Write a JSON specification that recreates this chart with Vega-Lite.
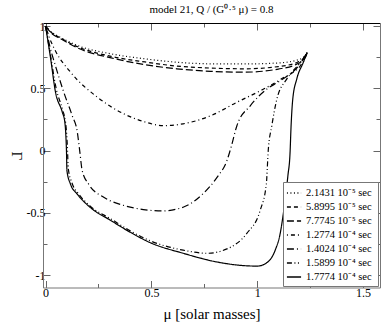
{
  "$schema": "https://vega.github.io/schema/vega-lite/v6.json",
  "autosize": {"type": "none"},
  "padding": {"left": 43, "top": 23, "right": 2, "bottom": 39.5},
  "width": 337,
  "height": 264.5,
  "config": {
    "font": "Liberation Serif",
    "view": {"stroke": null},
    "axis": {"grid": false, "labelFont": "Liberation Serif", "titleFont": "Liberation Serif", "labelColor": "black", "titleColor": "black", "tickColor": "#666", "domainColor": "#777", "titleFontWeight": "normal"}
  },
  "title": {"text": "model 21, Q / (G⁰·⁵ μ) = 0.8", "font": "Liberation Serif", "fontSize": 11, "fontWeight": "normal", "offset": 5, "color": "black"},
  "data": {"values": [
    {"s": "2.1431 10⁻⁵  sec", "i": 0, "x": 0, "y": 1},
    {"s": "2.1431 10⁻⁵  sec", "i": 1, "x": 0.03, "y": 0.95},
    {"s": "2.1431 10⁻⁵  sec", "i": 2, "x": 0.07, "y": 0.91},
    {"s": "2.1431 10⁻⁵  sec", "i": 3, "x": 0.15, "y": 0.845},
    {"s": "2.1431 10⁻⁵  sec", "i": 4, "x": 0.31, "y": 0.777},
    {"s": "2.1431 10⁻⁵  sec", "i": 5, "x": 0.47, "y": 0.737},
    {"s": "2.1431 10⁻⁵  sec", "i": 6, "x": 0.62, "y": 0.71},
    {"s": "2.1431 10⁻⁵  sec", "i": 7, "x": 0.78, "y": 0.697},
    {"s": "2.1431 10⁻⁵  sec", "i": 8, "x": 0.94, "y": 0.696},
    {"s": "2.1431 10⁻⁵  sec", "i": 9, "x": 1.1, "y": 0.704},
    {"s": "2.1431 10⁻⁵  sec", "i": 10, "x": 1.19, "y": 0.728},
    {"s": "2.1431 10⁻⁵  sec", "i": 11, "x": 1.222, "y": 0.755},
    {"s": "2.1431 10⁻⁵  sec", "i": 12, "x": 1.236, "y": 0.79},

    {"s": "5.8995 10⁻⁵  sec", "i": 0, "x": 0, "y": 1},
    {"s": "5.8995 10⁻⁵  sec", "i": 1, "x": 0.03, "y": 0.945},
    {"s": "5.8995 10⁻⁵  sec", "i": 2, "x": 0.07, "y": 0.905},
    {"s": "5.8995 10⁻⁵  sec", "i": 3, "x": 0.15, "y": 0.835},
    {"s": "5.8995 10⁻⁵  sec", "i": 4, "x": 0.31, "y": 0.757},
    {"s": "5.8995 10⁻⁵  sec", "i": 5, "x": 0.47, "y": 0.712},
    {"s": "5.8995 10⁻⁵  sec", "i": 6, "x": 0.62, "y": 0.679},
    {"s": "5.8995 10⁻⁵  sec", "i": 7, "x": 0.78, "y": 0.663},
    {"s": "5.8995 10⁻⁵  sec", "i": 8, "x": 0.94, "y": 0.657},
    {"s": "5.8995 10⁻⁵  sec", "i": 9, "x": 1.1, "y": 0.675},
    {"s": "5.8995 10⁻⁵  sec", "i": 10, "x": 1.19, "y": 0.71},
    {"s": "5.8995 10⁻⁵  sec", "i": 11, "x": 1.222, "y": 0.745},
    {"s": "5.8995 10⁻⁵  sec", "i": 12, "x": 1.236, "y": 0.785},

    {"s": "7.7745 10⁻⁵  sec", "i": 0, "x": 0, "y": 1},
    {"s": "7.7745 10⁻⁵  sec", "i": 1, "x": 0.03, "y": 0.94},
    {"s": "7.7745 10⁻⁵  sec", "i": 2, "x": 0.07, "y": 0.9},
    {"s": "7.7745 10⁻⁵  sec", "i": 3, "x": 0.15, "y": 0.825},
    {"s": "7.7745 10⁻⁵  sec", "i": 4, "x": 0.31, "y": 0.745},
    {"s": "7.7745 10⁻⁵  sec", "i": 5, "x": 0.47, "y": 0.69},
    {"s": "7.7745 10⁻⁵  sec", "i": 6, "x": 0.62, "y": 0.657},
    {"s": "7.7745 10⁻⁵  sec", "i": 7, "x": 0.78, "y": 0.637},
    {"s": "7.7745 10⁻⁵  sec", "i": 8, "x": 0.94, "y": 0.63},
    {"s": "7.7745 10⁻⁵  sec", "i": 9, "x": 1.1, "y": 0.655},
    {"s": "7.7745 10⁻⁵  sec", "i": 10, "x": 1.19, "y": 0.697},
    {"s": "7.7745 10⁻⁵  sec", "i": 11, "x": 1.222, "y": 0.74},
    {"s": "7.7745 10⁻⁵  sec", "i": 12, "x": 1.236, "y": 0.785},

    {"s": "1.2774 10⁻⁴  sec", "i": 0, "x": 0, "y": 1},
    {"s": "1.2774 10⁻⁴  sec", "i": 1, "x": 0.02, "y": 0.9},
    {"s": "1.2774 10⁻⁴  sec", "i": 2, "x": 0.047, "y": 0.8},
    {"s": "1.2774 10⁻⁴  sec", "i": 3, "x": 0.118, "y": 0.63},
    {"s": "1.2774 10⁻⁴  sec", "i": 4, "x": 0.244, "y": 0.43},
    {"s": "1.2774 10⁻⁴  sec", "i": 5, "x": 0.37, "y": 0.295},
    {"s": "1.2774 10⁻⁴  sec", "i": 6, "x": 0.46, "y": 0.235},
    {"s": "1.2774 10⁻⁴  sec", "i": 7, "x": 0.557, "y": 0.2},
    {"s": "1.2774 10⁻⁴  sec", "i": 8, "x": 0.65, "y": 0.215},
    {"s": "1.2774 10⁻⁴  sec", "i": 9, "x": 0.78, "y": 0.28},
    {"s": "1.2774 10⁻⁴  sec", "i": 10, "x": 0.906, "y": 0.39},
    {"s": "1.2774 10⁻⁴  sec", "i": 11, "x": 1.014, "y": 0.48},
    {"s": "1.2774 10⁻⁴  sec", "i": 12, "x": 1.108, "y": 0.57},
    {"s": "1.2774 10⁻⁴  sec", "i": 13, "x": 1.217, "y": 0.71},
    {"s": "1.2774 10⁻⁴  sec", "i": 14, "x": 1.236, "y": 0.785},

    {"s": "1.4024 10⁻⁴  sec", "i": 0, "x": 0, "y": 1},
    {"s": "1.4024 10⁻⁴  sec", "i": 1, "x": 0.02, "y": 0.84},
    {"s": "1.4024 10⁻⁴  sec", "i": 2, "x": 0.047, "y": 0.68},
    {"s": "1.4024 10⁻⁴  sec", "i": 3, "x": 0.086, "y": 0.47},
    {"s": "1.4024 10⁻⁴  sec", "i": 4, "x": 0.126, "y": 0.28},
    {"s": "1.4024 10⁻⁴  sec", "i": 5, "x": 0.15, "y": 0.15},
    {"s": "1.4024 10⁻⁴  sec", "i": 6, "x": 0.162, "y": -0.01},
    {"s": "1.4024 10⁻⁴  sec", "i": 7, "x": 0.173, "y": -0.16},
    {"s": "1.4024 10⁻⁴  sec", "i": 8, "x": 0.204, "y": -0.27},
    {"s": "1.4024 10⁻⁴  sec", "i": 9, "x": 0.275, "y": -0.375},
    {"s": "1.4024 10⁻⁴  sec", "i": 10, "x": 0.368, "y": -0.44},
    {"s": "1.4024 10⁻⁴  sec", "i": 11, "x": 0.462, "y": -0.474},
    {"s": "1.4024 10⁻⁴  sec", "i": 12, "x": 0.55, "y": -0.485},
    {"s": "1.4024 10⁻⁴  sec", "i": 13, "x": 0.65, "y": -0.455},
    {"s": "1.4024 10⁻⁴  sec", "i": 14, "x": 0.745, "y": -0.345},
    {"s": "1.4024 10⁻⁴  sec", "i": 15, "x": 0.81, "y": -0.215},
    {"s": "1.4024 10⁻⁴  sec", "i": 16, "x": 0.857, "y": -0.08},
    {"s": "1.4024 10⁻⁴  sec", "i": 17, "x": 0.877, "y": 0.03},
    {"s": "1.4024 10⁻⁴  sec", "i": 18, "x": 0.904, "y": 0.2},
    {"s": "1.4024 10⁻⁴  sec", "i": 19, "x": 0.967, "y": 0.36},
    {"s": "1.4024 10⁻⁴  sec", "i": 20, "x": 1.046, "y": 0.495},
    {"s": "1.4024 10⁻⁴  sec", "i": 21, "x": 1.108, "y": 0.56},
    {"s": "1.4024 10⁻⁴  sec", "i": 22, "x": 1.2, "y": 0.69},
    {"s": "1.4024 10⁻⁴  sec", "i": 23, "x": 1.236, "y": 0.785},

    {"s": "1.5899 10⁻⁴  sec", "i": 0, "x": 0, "y": 1},
    {"s": "1.5899 10⁻⁴  sec", "i": 1, "x": 0.024, "y": 0.76},
    {"s": "1.5899 10⁻⁴  sec", "i": 2, "x": 0.05, "y": 0.5},
    {"s": "1.5899 10⁻⁴  sec", "i": 3, "x": 0.08, "y": 0.33},
    {"s": "1.5899 10⁻⁴  sec", "i": 4, "x": 0.095, "y": 0.22},
    {"s": "1.5899 10⁻⁴  sec", "i": 5, "x": 0.101, "y": 0.1},
    {"s": "1.5899 10⁻⁴  sec", "i": 6, "x": 0.104, "y": 0},
    {"s": "1.5899 10⁻⁴  sec", "i": 7, "x": 0.107, "y": -0.14},
    {"s": "1.5899 10⁻⁴  sec", "i": 8, "x": 0.125, "y": -0.26},
    {"s": "1.5899 10⁻⁴  sec", "i": 9, "x": 0.155, "y": -0.345},
    {"s": "1.5899 10⁻⁴  sec", "i": 10, "x": 0.21, "y": -0.445},
    {"s": "1.5899 10⁻⁴  sec", "i": 11, "x": 0.31, "y": -0.55},
    {"s": "1.5899 10⁻⁴  sec", "i": 12, "x": 0.4, "y": -0.645},
    {"s": "1.5899 10⁻⁴  sec", "i": 13, "x": 0.495, "y": -0.725},
    {"s": "1.5899 10⁻⁴  sec", "i": 14, "x": 0.65, "y": -0.8},
    {"s": "1.5899 10⁻⁴  sec", "i": 15, "x": 0.763, "y": -0.825},
    {"s": "1.5899 10⁻⁴  sec", "i": 16, "x": 0.857, "y": -0.79},
    {"s": "1.5899 10⁻⁴  sec", "i": 17, "x": 0.95, "y": -0.667},
    {"s": "1.5899 10⁻⁴  sec", "i": 18, "x": 1.014, "y": -0.48},
    {"s": "1.5899 10⁻⁴  sec", "i": 19, "x": 1.043, "y": -0.27},
    {"s": "1.5899 10⁻⁴  sec", "i": 20, "x": 1.052, "y": 0},
    {"s": "1.5899 10⁻⁴  sec", "i": 21, "x": 1.069, "y": 0.2},
    {"s": "1.5899 10⁻⁴  sec", "i": 22, "x": 1.093, "y": 0.415},
    {"s": "1.5899 10⁻⁴  sec", "i": 23, "x": 1.14, "y": 0.576},
    {"s": "1.5899 10⁻⁴  sec", "i": 24, "x": 1.2, "y": 0.7},
    {"s": "1.5899 10⁻⁴  sec", "i": 25, "x": 1.236, "y": 0.785},

    {"s": "1.7774 10⁻⁴  sec", "i": 0, "x": 0, "y": 1},
    {"s": "1.7774 10⁻⁴  sec", "i": 1, "x": 0.024, "y": 0.74},
    {"s": "1.7774 10⁻⁴  sec", "i": 2, "x": 0.047, "y": 0.47},
    {"s": "1.7774 10⁻⁴  sec", "i": 3, "x": 0.079, "y": 0.31},
    {"s": "1.7774 10⁻⁴  sec", "i": 4, "x": 0.091, "y": 0.23},
    {"s": "1.7774 10⁻⁴  sec", "i": 5, "x": 0.096, "y": 0.12},
    {"s": "1.7774 10⁻⁴  sec", "i": 6, "x": 0.099, "y": -0.01},
    {"s": "1.7774 10⁻⁴  sec", "i": 7, "x": 0.101, "y": -0.16},
    {"s": "1.7774 10⁻⁴  sec", "i": 8, "x": 0.118, "y": -0.27},
    {"s": "1.7774 10⁻⁴  sec", "i": 9, "x": 0.15, "y": -0.35},
    {"s": "1.7774 10⁻⁴  sec", "i": 10, "x": 0.21, "y": -0.455},
    {"s": "1.7774 10⁻⁴  sec", "i": 11, "x": 0.307, "y": -0.56},
    {"s": "1.7774 10⁻⁴  sec", "i": 12, "x": 0.4, "y": -0.656},
    {"s": "1.7774 10⁻⁴  sec", "i": 13, "x": 0.495, "y": -0.74},
    {"s": "1.7774 10⁻⁴  sec", "i": 14, "x": 0.65, "y": -0.825},
    {"s": "1.7774 10⁻⁴  sec", "i": 15, "x": 0.81, "y": -0.895},
    {"s": "1.7774 10⁻⁴  sec", "i": 16, "x": 0.935, "y": -0.924},
    {"s": "1.7774 10⁻⁴  sec", "i": 17, "x": 1.0, "y": -0.928},
    {"s": "1.7774 10⁻⁴  sec", "i": 18, "x": 1.046, "y": -0.9},
    {"s": "1.7774 10⁻⁴  sec", "i": 19, "x": 1.085, "y": -0.8},
    {"s": "1.7774 10⁻⁴  sec", "i": 20, "x": 1.108, "y": -0.67},
    {"s": "1.7774 10⁻⁴  sec", "i": 21, "x": 1.13, "y": -0.42},
    {"s": "1.7774 10⁻⁴  sec", "i": 22, "x": 1.145, "y": -0.2},
    {"s": "1.7774 10⁻⁴  sec", "i": 23, "x": 1.155, "y": -0.02},
    {"s": "1.7774 10⁻⁴  sec", "i": 24, "x": 1.16, "y": 0.2},
    {"s": "1.7774 10⁻⁴  sec", "i": 25, "x": 1.168, "y": 0.415},
    {"s": "1.7774 10⁻⁴  sec", "i": 26, "x": 1.187, "y": 0.576},
    {"s": "1.7774 10⁻⁴  sec", "i": 27, "x": 1.218, "y": 0.71},
    {"s": "1.7774 10⁻⁴  sec", "i": 28, "x": 1.236, "y": 0.79}
  ]},
  "layer": [
    {
      "mark": {"type": "line", "color": "black", "strokeWidth": 1.2, "interpolate": "monotone", "clip": true},
      "encoding": {
        "x": {"field": "x", "type": "quantitative", "scale": {"domain": [-0.012, 1.58], "nice": false, "zero": false},
          "axis": {"orient": "bottom", "values": [0, 0.25, 0.5, 0.75, 1, 1.25, 1.5], "labelExpr": "datum.value % 0.5 === 0 ? '' + datum.value : ''",
            "tickSize": {"condition": {"test": "datum.value % 0.5 === 0", "value": -7}, "value": -4},
            "labelFontSize": 12, "labelPadding": 7, "labelFlush": false, "title": "μ  [solar masses]", "titleFontSize": 15, "titlePadding": 8}},
        "y": {"field": "y", "type": "quantitative", "scale": {"domain": [-1.1, 1.025], "nice": false, "zero": false},
          "axis": {"orient": "left", "values": [-1, -0.75, -0.5, -0.25, 0, 0.25, 0.5, 0.75, 1], "labelExpr": "datum.value % 0.5 === 0 ? '' + datum.value : ''",
            "tickSize": {"condition": {"test": "datum.value % 0.5 === 0", "value": -7}, "value": -4},
            "labelFontSize": 12, "labelPadding": 5, "labelFlush": false, "title": "Γ", "titleFontSize": 15, "titleAngle": 90, "titlePadding": 18}},
        "strokeDash": {"field": "s", "type": "nominal",
          "scale": {"domain": ["2.1431 10⁻⁵  sec", "5.8995 10⁻⁵  sec", "7.7745 10⁻⁵  sec", "1.2774 10⁻⁴  sec", "1.4024 10⁻⁴  sec", "1.5899 10⁻⁴  sec", "1.7774 10⁻⁴  sec"],
            "range": [[1, 2.5], [4, 3], [7, 3], [1, 3, 4, 3], [7, 3, 1, 3], [5, 2.5, 1, 2.5, 1, 2.5], [1, 0]]},
          "legend": {"title": null, "orient": "bottom-right", "offset": 2, "fillColor": "white", "strokeColor": "#777", "padding": 3,
            "symbolType": "stroke", "symbolStrokeColor": "black", "symbolStrokeWidth": 1.3, "symbolSize": 200,
            "labelFont": "Liberation Serif", "labelFontSize": 10.5, "labelColor": "black", "rowPadding": 0, "labelOffset": 4}},
        "order": {"field": "i", "type": "quantitative"}
      }
    },
    {
      "mark": {"type": "line", "strokeOpacity": 0},
      "encoding": {
        "x": {"field": "x", "type": "quantitative",
          "axis": {"orient": "top", "values": [0, 0.25, 0.5, 0.75, 1, 1.25, 1.5], "labels": false, "title": null, "domainColor": "black",
            "tickSize": {"condition": {"test": "datum.value % 0.5 === 0", "value": -7}, "value": -4}}},
        "y": {"field": "y", "type": "quantitative",
          "axis": {"orient": "right", "values": [-1, -0.75, -0.5, -0.25, 0, 0.25, 0.5, 0.75, 1], "labels": false, "title": null,
            "tickSize": {"condition": {"test": "datum.value % 0.5 === 0", "value": -7}, "value": -4}}},
        "detail": {"field": "s", "type": "nominal"},
        "order": {"field": "i", "type": "quantitative"}
      }
    }
  ],
  "resolve": {"axis": {"x": "independent", "y": "independent"}}
}
